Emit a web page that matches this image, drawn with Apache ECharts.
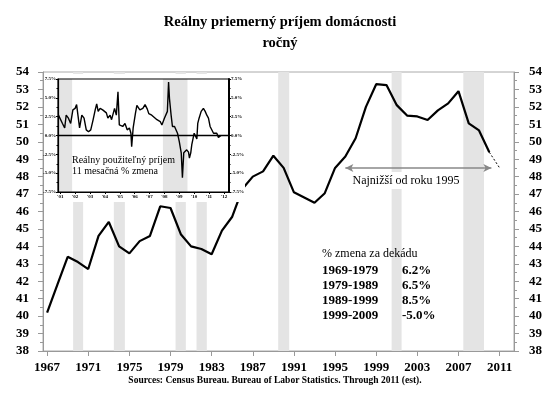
<!DOCTYPE html>
<html><head><meta charset="utf-8">
<script src="https://cdn.jsdelivr.net/npm/echarts@6/dist/echarts.min.js"></script>
<style>html,body{margin:0;padding:0;background:#fff}#c{width:550px;height:394px}</style>
</head><body><div id="c"></div>
<script>
// ---------- data ----------
const years = [1967,1968,1969,1970,1971,1972,1973,1974,1975,1976,1977,1978,1979,1980,1981,1982,1983,1984,1985,1986,1987,1988,1989,1990,1991,1992,1993,1994,1995,1996,1997,1998,1999,2000,2001,2002,2003,2004,2005,2006,2007,2008,2009,2010];
const income = [40.2,41.8,43.4,43.1,42.7,44.6,45.4,44.0,43.6,44.3,44.6,46.3,46.2,44.7,44.0,43.85,43.55,44.9,45.7,47.3,48.0,48.3,49.2,48.5,47.1,46.8,46.5,47.05,48.5,49.15,50.2,52.0,53.3,53.25,52.1,51.5,51.45,51.25,51.8,52.2,52.9,51.05,50.65,49.4];
const estYears = [2010, 2011];
const estIncome = [49.4, 48.5];
const xTickYears = [1967,1971,1975,1979,1983,1987,1991,1995,1999,2003,2007,2011];
const recessions = [[1969.53,1970.5],[1973.49,1974.56],[1979.49,1980.49],[1981.53,1982.53],[1989.47,1990.54],[2000.5,2001.47],[2007.47,2009.48]];
const lowSince = {from: 1996.0, to: 2010.2, level: 48.5, text: 'Najnižší od roku 1995'};

const insetX = [2000.88,2001.0,2001.15,2001.3,2001.4,2001.55,2001.7,2001.85,2002.0,2002.1,2002.3,2002.45,2002.6,2002.75,2002.9,2003.05,2003.2,2003.35,2003.45,2003.55,2003.68,2003.85,2003.95,2004.1,2004.2,2004.35,2004.45,2004.55,2004.65,2004.77,2004.88,2004.97,2005.2,2005.35,2005.5,2005.65,2005.75,2005.8,2005.9,2006.05,2006.15,2006.25,2006.35,2006.55,2006.7,2006.85,2006.95,2007.15,2007.27,2007.5,2007.72,2007.83,2008.0,2008.12,2008.2,2008.28,2008.34,2008.45,2008.54,2008.68,2008.79,2008.88,2009.0,2009.13,2009.21,2009.3,2009.4,2009.5,2009.62,2009.68,2009.77,2009.84,2009.93,2010.0,2010.1,2010.18,2010.24,2010.33,2010.47,2010.62,2010.74,2010.85,2010.96,2011.07,2011.18,2011.3,2011.4,2011.52,2011.63,2011.74,2011.8];
const insetY = [2.7,2.6,1.6,1.0,2.7,2.3,1.6,3.4,3.6,4.1,1.0,2.7,2.3,0.75,0.5,0.75,2.0,3.4,4.2,3.2,3.6,3.4,3.6,3.0,2.3,2.7,2.1,1.9,3.6,2.7,5.8,1.4,1.2,1.6,0.75,1.0,0.3,-1.5,1.0,2.9,4.0,3.8,3.4,3.6,4.1,3.5,2.9,2.7,2.5,2.1,1.85,1.4,2.3,2.5,3.2,7.1,4.9,2.7,1.2,1.2,1.05,0.3,-0.8,-2.3,-5.6,-2.3,-2.1,-1.9,-2.2,-3.0,-2.3,-1.2,-0.35,0.3,0.3,-0.45,1.6,2.3,3.2,3.6,3.2,2.7,2.3,1.2,1.0,0.3,0.2,0.3,-0.25,-0.1,0.0];
const insetRecessions = [[2000.85,2001.8],[2007.9,2009.55]];
const insetTickYears = [2001,2002,2003,2004,2005,2006,2007,2008,2009,2010,2011,2012];
const insetRange = [2000.85, 2012.34];

const decadeTitle = '% zmena za dekádu';
const decadeRanges = ['1969-1979','1979-1989','1989-1999','1999-2009'];
const decadeChanges = ['6.2%','6.5%','8.5%','-5.0%'];

const titleText = 'Reálny priemerný príjem domácnosti\nročný';
const sourceText = 'Sources: Census Bureau. Bureau of Labor Statistics. Through 2011 (est).';
const insetLabel = ['Reálny použiteľný príjem', '11 mesačná % zmena'];

// ---------- chart ----------
const SERIF = '"Liberation Serif","Times New Roman",serif';
const chart = echarts.init(document.getElementById('c'), null, {renderer: 'canvas'});

const mainY = (pos) => ({
  type: 'value', gridIndex: 0, position: pos, min: 38, max: 54, interval: 1, z: 3,
  axisLine: {show: true, lineStyle: {color: '#999', width: 1}},
  axisTick: {show: true, length: 5, lineStyle: {color: '#999'}},
  minorTick: {show: true, splitNumber: 2, length: 3, lineStyle: {color: '#999'}},
  axisLabel: {color: '#000', fontFamily: SERIF, fontWeight: 'bold', fontSize: 13, margin: pos === 'left' ? 14 : 15},
  splitLine: {show: false}
});
const insetYAxis = (pos) => ({
  type: 'value', gridIndex: 1, position: pos, min: -7.5, max: 7.5, interval: 2.5, zlevel: 1, z: 5,
  axisLine: {show: true, lineStyle: {color: '#000', width: pos === 'right' ? 2 : 1.2}},
  axisTick: {show: true, length: 2, lineStyle: {color: '#000'}},
  minorTick: {show: true, splitNumber: 2, length: 1.5, lineStyle: {color: '#000'}},
  axisLabel: {color: '#000', fontFamily: SERIF, fontWeight: 'bold', fontSize: 5, margin: 2,
    formatter: v => v.toFixed(1) + '%'},
  splitLine: {show: false}
});

const texts = [];
texts.push({type: 'text', zlevel: 1, z: 10, style: {text: sourceText, x: 275, y: 380.5, fill: '#000',
  font: 'bold 9.5px ' + SERIF, textAlign: 'center', textVerticalAlign: 'middle'}});
texts.push({type: 'text', zlevel: 1, z: 10, style: {text: decadeTitle, x: 322, y: 254, fill: '#000',
  font: '12px ' + SERIF, textAlign: 'left', textVerticalAlign: 'middle'}});
decadeRanges.forEach((r, i) => {
  texts.push({type: 'text', zlevel: 1, z: 10, style: {text: r, x: 322, y: 270.5 + i * 15.2, fill: '#000',
    font: 'bold 13px ' + SERIF, textAlign: 'left', textVerticalAlign: 'middle'}});
  texts.push({type: 'text', zlevel: 1, z: 10, style: {text: decadeChanges[i], x: 402, y: 270.5 + i * 15.2, fill: '#000',
    font: 'bold 13px ' + SERIF, textAlign: 'left', textVerticalAlign: 'middle'}});
});
texts.push({type: 'rect', zlevel: 1, z: 8, shape: {x: 350, y: 172, width: 112, height: 17}, style: {fill: '#fff'}});
texts.push({type: 'text', zlevel: 1, z: 10, style: {text: lowSince.text, x: 406, y: 180.5, fill: '#000',
  font: '12px ' + SERIF, textAlign: 'center', textVerticalAlign: 'middle'}});
// inset white backdrop
texts.push({type: 'rect', zlevel: 1, z: -10, shape: {x: 45, y: 74, width: 200, height: 128}, style: {fill: '#fff'}});
insetLabel.forEach((t, i) => {
  texts.push({type: 'text', zlevel: 1, z: 10, style: {text: t, x: 72, y: 160 + i * 11.8, fill: '#000',
    font: '10px ' + SERIF, textAlign: 'left', textVerticalAlign: 'middle'}});
});

const option = {
  animation: false,
  backgroundColor: '#fff',
  title: {
    text: titleText, left: 275, top: 7, textAlign: 'center',
    textStyle: {fontFamily: SERIF, fontWeight: 'bold', fontSize: 14.5, color: '#000', lineHeight: 21}
  },
  grid: [
    {left: 43, right: 36, top: 72, bottom: 43, show: true, borderColor: '#aaa', borderWidth: 1},
    {left: 58, right: 321, top: 79, bottom: 202, show: true, borderColor: '#000', borderWidth: 1.2, zlevel: 1, z: 4}
  ],
  xAxis: [
    {type: 'value', gridIndex: 0, min: 1966.6, max: 2012.4, z: 3,
      axisLine: {show: true, onZero: false, lineStyle: {color: '#999'}},
      axisTick: {show: true, customValues: xTickYears, length: 5, lineStyle: {color: '#999'}},
      axisLabel: {customValues: xTickYears, color: '#000', fontFamily: SERIF, fontWeight: 'bold', fontSize: 13, margin: 10,
        formatter: v => String(v)},
      splitLine: {show: false}},
    {type: 'value', gridIndex: 1, min: insetRange[0], max: insetRange[1], zlevel: 1, z: 5,
      axisLine: {show: true, onZero: false, lineStyle: {color: '#000', width: 1.2}},
      axisTick: {show: true, customValues: insetTickYears, length: 2, lineStyle: {color: '#000'}},
      axisLabel: {customValues: insetTickYears, color: '#000', fontFamily: SERIF, fontWeight: 'bold', fontSize: 5, margin: 2,
        formatter: v => "'" + String(v).slice(2)},
      splitLine: {show: false}}
  ],
  yAxis: [mainY('left'), mainY('right'), insetYAxis('left'), insetYAxis('right')],
  graphic: {elements: texts},
  series: [
    {type: 'line', xAxisIndex: 0, yAxisIndex: 0, symbol: 'none', z: 2,
      data: years.map((y, i) => [y, income[i]]),
      lineStyle: {color: '#000', width: 2.2},
      markArea: {silent: true, itemStyle: {color: '#e4e4e4'},
        data: recessions.map(r => [{xAxis: r[0]}, {xAxis: r[1]}])},
      markLine: {silent: true, symbol: ['arrow', 'arrow'], symbolSize: [6, 8],
        lineStyle: {color: '#888', width: 1.5, type: 'solid'}, label: {show: false},
        data: [[{coord: [lowSince.from, lowSince.level]}, {coord: [lowSince.to, lowSince.level]}]]}},
    {type: 'line', xAxisIndex: 0, yAxisIndex: 0, symbol: 'none', z: 2,
      data: estYears.map((y, i) => [y, estIncome[i]]),
      lineStyle: {color: '#000', width: 1, type: [2, 2]}},
    {type: 'custom', xAxisIndex: 1, yAxisIndex: 2, zlevel: 1, z: 1, silent: true,
      data: insetRecessions,
      encode: {x: [0, 1]},
      renderItem: (params, api) => {
        const p0 = api.coord([api.value(0), 7.5]);
        const p1 = api.coord([api.value(1), -7.5]);
        return {type: 'rect', shape: {x: p0[0], y: p0[1], width: p1[0] - p0[0], height: p1[1] - p0[1]},
          style: {fill: '#e4e4e4'}};
      }},
    {type: 'line', xAxisIndex: 1, yAxisIndex: 2, symbol: 'none', zlevel: 1, z: 3,
      data: insetX.map((x, i) => [x, insetY[i]]),
      lineStyle: {color: '#000', width: 1.4}},
    {type: 'line', xAxisIndex: 1, yAxisIndex: 2, symbol: 'none', zlevel: 1, z: 3,
      data: [[insetRange[0], 0], [insetRange[1], 0]],
      lineStyle: {color: '#000', width: 1.5}}
  ]
};
chart.setOption(option);
</script></body></html>
